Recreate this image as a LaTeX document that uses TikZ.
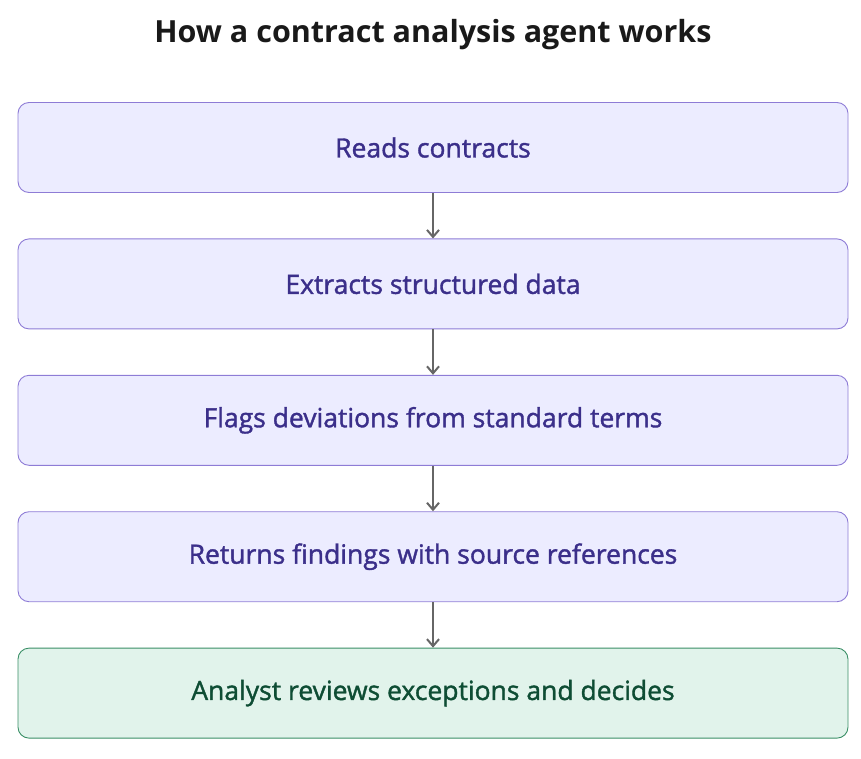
\documentclass[tikz,border=0pt]{standalone}
\usepackage{fontspec}
\setmainfont{Open Sans}
\newfontfamily\semibold{Open Sans}[FakeBold=1.4]
\usetikzlibrary{positioning,arrows.meta}
\definecolor{boxfill}{HTML}{ECECFF}
\definecolor{boxline}{HTML}{8E7CD6}
\definecolor{boxtext}{HTML}{3B2F8A}
\definecolor{endfill}{HTML}{E1F3EB}
\definecolor{endline}{HTML}{3A8F66}
\definecolor{endtext}{HTML}{0E4D34}
\tikzset{
  stage/.style={draw=boxline, fill=boxfill, text=boxtext, rounded corners=11pt,
    minimum width=830pt, minimum height=90pt, line width=0.9pt,
    font=\semibold\fontsize{26.5}{30}\selectfont},
  final/.style={stage, draw=endline, fill=endfill, text=endtext},
  flow/.style={-{Straight Barb[length=7pt,width=12pt]}, draw=black!60, line width=2pt}
}
\begin{document}
\begin{tikzpicture}[x=1pt,y=-1pt, node distance=45.5pt]
    \useasboundingbox (0,0) rectangle (861,758);
    \node[text=black!90, font=\bfseries\fontsize{30.5}{34}\selectfont] (title) at (433,35) {How a contract analysis agent works};

    \node[stage] (reads) at (433,147.5) {Reads contracts};
    \node[stage, below=of reads] (extract) {Extracts structured data};
    \node[stage, below=of extract] (flags) {Flags deviations from standard terms};
    \node[stage, below=of flags] (returns) {Returns findings with source references};
    \node[final, below=of returns] (analyst) {Analyst reviews exceptions and decides};

    \draw[flow] (reads) -- (extract);
    \draw[flow] (extract) -- (flags);
    \draw[flow] (flags) -- (returns);
    \draw[flow] (returns) -- (analyst);
\end{tikzpicture}
\end{document}
